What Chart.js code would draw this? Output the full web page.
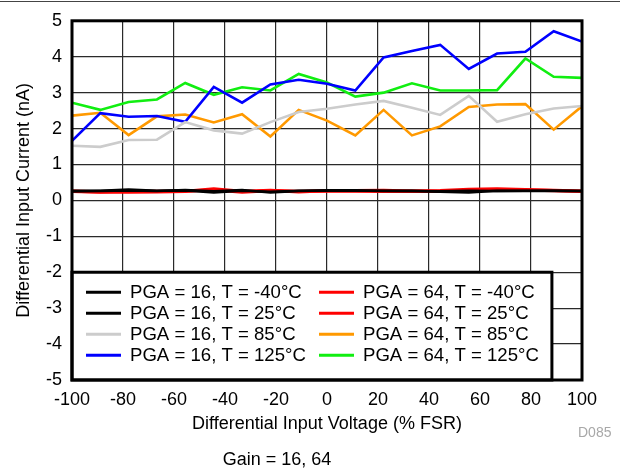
<!DOCTYPE html>
<html>
<head>
<meta charset="utf-8">
<script src="https://cdn.jsdelivr.net/npm/chart.js@4"></script>
<style>
  body { margin: 0; background: #fff; font-family: "Liberation Sans", Arial, sans-serif; }
  #wrap { position: relative; width: 620px; height: 470px; }
  #topline { position: absolute; left: 0; top: 1px; width: 620px; height: 1px; background: #444; }
  #code { position: absolute; left: 578px; top: 424px; font-size: 14px; color: #a8a8a8; }
  #caption { position: absolute; left: 0; width: 554px; top: 449px; text-align: center; font-size: 18px; color: #000; }
</style>
</head>
<body>
<div id="wrap">
  <canvas id="chart" width="620" height="470"></canvas>
  <div id="topline"></div>
  <div id="code">D085</div>
  <div id="caption">Gain = 16, 64</div>
</div>
<script>
// x positions (% FSR)
const xs = [-100, -88.9, -77.8, -66.7, -55.6, -44.4, -33.3, -22.2, -11.1, 0,
            11.1, 22.2, 33.3, 44.4, 55.6, 66.7, 77.8, 88.9, 100];

// differential input current (nA)
const pga16m40 = [0.27, 0.27, 0.30, 0.27, 0.28, 0.22, 0.27, 0.24, 0.27, 0.27, 0.27, 0.27, 0.26, 0.25, 0.27, 0.26, 0.27, 0.27, 0.26];
const pga16p25 = [0.25, 0.26, 0.28, 0.26, 0.29, 0.25, 0.29, 0.22, 0.26, 0.28, 0.28, 0.26, 0.27, 0.24, 0.22, 0.27, 0.26, 0.27, 0.26];
const pga16p85 = [1.52, 1.49, 1.68, 1.69, 2.18, 1.95, 1.86, 2.18, 2.46, 2.55, 2.67, 2.77, 2.58, 2.38, 2.91, 2.19, 2.40, 2.56, 2.63];
const pga16p125 = [1.66, 2.43, 2.33, 2.35, 2.19, 3.16, 2.72, 3.23, 3.36, 3.25, 3.06, 3.98, 4.16, 4.33, 3.66, 4.09, 4.14, 4.71, 4.42];
const pga64m40 = [0.26, 0.24, 0.23, 0.24, 0.25, 0.32, 0.25, 0.28, 0.24, 0.27, 0.27, 0.28, 0.26, 0.27, 0.31, 0.32, 0.30, 0.28, 0.26];
const pga64p25 = [0.25, 0.23, 0.25, 0.25, 0.26, 0.29, 0.23, 0.27, 0.25, 0.26, 0.26, 0.25, 0.26, 0.25, 0.28, 0.30, 0.29, 0.27, 0.25];
const pga64p85 = [2.36, 2.44, 1.82, 2.34, 2.39, 2.17, 2.40, 1.78, 2.52, 2.22, 1.81, 2.52, 1.81, 2.06, 2.60, 2.67, 2.68, 1.97, 2.62];
const pga64p125 = [2.72, 2.52, 2.74, 2.81, 3.27, 2.94, 3.15, 3.06, 3.52, 3.28, 2.89, 3.00, 3.26, 3.06, 3.06, 3.07, 3.95, 3.44, 3.41];

const xTicks = [-100, -80, -60, -40, -20, 0, 20, 40, 60, 80, 100];
const yTicks = [-5, -4, -3, -2, -1, 0, 1, 2, 3, 4, 5];

const FONT = "'Liberation Sans', Arial, sans-serif";

const series = [
  { label: "PGA = 16, T = -40°C", data: pga16m40, color: "#000000", col: 0, row: 0, w: 2.6 },
  { label: "PGA = 16, T = 25°C", data: pga16p25, color: "#000000", col: 0, row: 1, w: 2.6 },
  { label: "PGA = 16, T = 85°C", data: pga16p85, color: "#cccccc", col: 0, row: 2, w: 2.6 },
  { label: "PGA = 16, T = 125°C", data: pga16p125, color: "#0000ff", col: 0, row: 3, w: 2.6 },
  { label: "PGA = 64, T = -40°C", data: pga64m40, color: "#ff0000", col: 1, row: 0, w: 3.2 },
  { label: "PGA = 64, T = 25°C", data: pga64p25, color: "#ff0000", col: 1, row: 1, w: 3.2 },
  { label: "PGA = 64, T = 85°C", data: pga64p85, color: "#ff9900", col: 1, row: 2, w: 2.6 },
  { label: "PGA = 64, T = 125°C", data: pga64p125, color: "#11ee11", col: 1, row: 3, w: 2.6 },
];

// legend box + frame drawn on top of the grid
const boxLegend = {
  id: "boxLegend",
  afterDatasetsDraw(chart) {
    const { ctx, chartArea: a } = chart;
    const xs_ = chart.scales.x, ys_ = chart.scales.y;
    const left = a.left, right = xs_.getPixelForValue(88.2);
    const top = ys_.getPixelForValue(-2), bottom = a.bottom;
    ctx.save();
    ctx.fillStyle = "#fff";
    ctx.fillRect(left, top, right - left, bottom - top);
    ctx.lineWidth = 3;
    ctx.strokeStyle = "#000";
    ctx.strokeRect(left, top, right - left, bottom - top);

    ctx.font = "18.6px " + FONT;
    ctx.textBaseline = "middle";
    ctx.fillStyle = "#000";
    chart.data.datasets.forEach((ds, i) => {
      const s = series[i];
      const x0 = left + 14 + s.col * 233;
      const y0 = top + 20 + s.row * 21;
      ctx.strokeStyle = ds.borderColor;
      ctx.lineWidth = 3;
      ctx.beginPath();
      ctx.moveTo(x0, y0);
      ctx.lineTo(x0 + 35, y0);
      ctx.stroke();
      ctx.fillText(ds.label, x0 + 44, y0 + 1);
    });

    // plot frame
    ctx.lineWidth = 3;
    ctx.strokeStyle = "#000";
    ctx.strokeRect(a.left, a.top, a.right - a.left, a.bottom - a.top);
    ctx.restore();
  }
};

new Chart(document.getElementById("chart"), {
  type: "line",
  data: {
    datasets: series.map(s => ({
      label: s.label,
      data: s.data.map((v, i) => ({ x: xs[i], y: v })),
      borderColor: s.color,
      backgroundColor: s.color,
      borderWidth: s.w,
      pointRadius: 0,
      tension: 0,
    })),
  },
  options: {
    responsive: false,
    animation: false,
    layout: { padding: { top: 20, right: 38, left: 0, bottom: 35 } },
    plugins: { legend: { display: false }, tooltip: { enabled: false } },
    scales: {
      x: {
        type: "linear",
        min: -100,
        max: 100,
        afterBuildTicks: sc => { sc.ticks = xTicks.map(v => ({ value: v })); },
        afterFit: sc => { sc.height = 55; },
        ticks: { color: "#000", padding: 9, font: { size: 18, family: FONT } },
        grid: { color: "#2a2a2a", lineWidth: 1.2, drawTicks: false },
        border: { display: false },
        title: {
          display: true,
          text: "Differential Input Voltage (% FSR)",
          color: "#000",
          font: { size: 18, family: FONT },
          padding: { top: 0, bottom: 0 },
        },
      },
      y: {
        type: "linear",
        min: -5,
        max: 5,
        afterBuildTicks: sc => { sc.ticks = yTicks.map(v => ({ value: v })); },
        afterFit: sc => { sc.width = 72; },
        ticks: { color: "#000", padding: 10, font: { size: 18, family: FONT } },
        grid: { color: "#2a2a2a", lineWidth: 1.2, drawTicks: false },
        border: { display: false },
        title: {
          display: true,
          text: "Differential Input Current (nA)",
          color: "#000",
          font: { size: 18, family: FONT },
          padding: { top: 13, bottom: 0 },
        },
      },
    },
  },
  plugins: [boxLegend],
});
</script>
</body>
</html>
